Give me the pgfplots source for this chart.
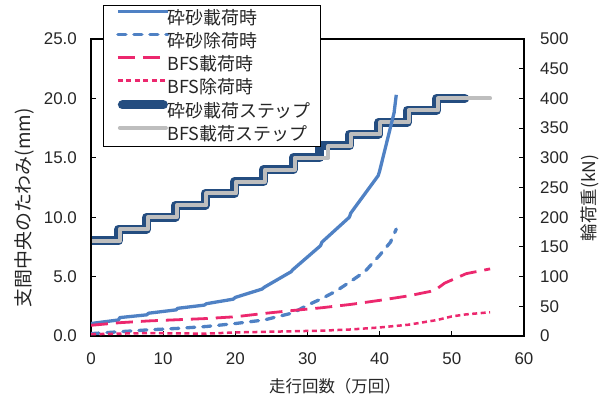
\documentclass[border=0pt]{standalone}
\usepackage{fontspec}
\usepackage{pgfplots}
\usepackage{pgfplotstable}
\pgfplotsset{compat=1.18}
\setmainfont{Noto Sans CJK JP}
\newfontfamily\numfont{Liberation Sans}

\definecolor{sandblue}{RGB}{79,129,196}
\definecolor{bfspink}{RGB}{236,40,110}
\definecolor{stepblue}{RGB}{36,77,128}
\definecolor{stepgray}{RGB}{190,190,190}
\definecolor{txt}{RGB}{38,38,38}

% deflection at midspan (mm) vs. passes (x 10^4)
\pgfplotstableread{
x y
0 1.05
3.8 1.35
4 1.55
7.7 1.78
8 1.92
11.8 2.2
12 2.33
15.7 2.6
16 2.72
19.7 3.1
20 3.25
23.7 3.95
24 4.1
27.7 5.4
28 5.6
31.8 7.6
32 7.9
35.8 10.0
36 10.35
39.8 13.5
40 13.9
42.0 18.8
42.3 20.3
}\sandload

\pgfplotstableread{
x y
0 0.2
4 0.36
8 0.52
12 0.64
16 0.8
20 1.05
24 1.35
28 1.95
30 2.6
32 3.15
34 3.8
36 4.6
38 5.45
40 6.8
41.5 7.9
42.3 9.0
}\sandunload

\pgfplotstableread{
x y
0 0.9
4 1.12
8 1.27
12 1.37
16 1.47
20 1.62
24 1.9
28 2.15
32 2.38
36 2.66
40 3.0
44 3.38
47 3.75
48 4.0
49 4.45
52 5.25
55.3 5.65
}\bfsload

\pgfplotstableread{
x y
0 0.15
4 0.2
8 0.25
12 0.22
16 0.2
20 0.3
24 0.35
28 0.4
32 0.45
36 0.55
40 0.72
44 0.95
48 1.35
50 1.65
52 1.82
55.3 2.0
}\bfsunload

% wheel load steps (kN)
\pgfplotstableread{
x y
0 160
3.8 160
3.8 180
7.7 180
7.7 200
11.7 200
11.7 220
15.8 220
15.8 240
19.9 240
19.9 260
23.9 260
23.9 280
28.0 280
28.0 300
31.7 300
31.7 320
35.8 320
35.8 340
39.9 340
39.9 360
43.8 360
43.8 380
47.9 380
47.9 400
51.8 400
}\sandstep

\pgfplotstableread{
x y
0 160
4.0 160
4.0 180
7.9 180
7.9 200
11.9 200
11.9 220
16.0 220
16.0 240
20.1 240
20.1 260
24.1 260
24.1 280
28.2 280
28.2 300
32.9 300
32.9 320
36.0 320
36.0 340
40.1 340
40.1 360
44.0 360
44.0 380
48.1 380
48.1 400
55.3 400
}\bfsstep

\pgfplotsset{
  common/.style={
    at={(91bp,61bp)}, anchor=south west, scale only axis,
    width=433bp, height=297bp, xmin=0, xmax=60,
    tick align=inside, major tick length=5bp,
    tick style={line width=0.9bp, black},
    axis line style={line width=2.5bp, black},
    /pgf/number format/assume math mode=true,
    tick label style={font=\fontsize{17}{17}\selectfont\numfont, text=txt},
  },
}

\begin{document}
\begin{tikzpicture}
\useasboundingbox (0,0) rectangle (603bp,397bp);

% right axis: wheel load
\begin{axis}[common,
  ymin=0, ymax=500, ytick={0,50,...,500},
  hide x axis, ytick pos=right, yticklabel pos=right,
  yticklabel style={anchor=west, inner sep=0pt, xshift=16bp},
  ylabel={輪荷重(kN)},
  ylabel style={at={(axis description cs:1.1524,0.465)}, anchor=center,
    font=\fontsize{17.5}{17.5}\selectfont, text=txt},
]
\addplot[stepblue, line width=9bp, line cap=round, line join=round] table {\sandstep};
\addplot[stepgray, line width=4bp, line cap=round, line join=round] table {\bfsstep};
\end{axis}

% left axis: deflection
\begin{axis}[common,
  ymin=0, ymax=25, ytick={0,5,...,25}, xtick={0,10,...,60},
  tick pos=left,
  yticklabel style={anchor=east, inner sep=0pt, xshift=-14bp,
    /pgf/number format/fixed, /pgf/number format/fixed zerofill,
    /pgf/number format/precision=1},
  xticklabel style={anchor=north, inner sep=0pt, yshift=-16bp},
  ylabel={支間中央のたわみ(mm)},
  ylabel style={at={(axis description cs:-0.1547,0.431)}, anchor=center,
    font=\fontsize{19}{19}\selectfont, text=txt},
  xlabel={走行回数（万回）},
  xlabel style={at={(axis description cs:0.5635,-0.1684)}, anchor=center,
    font=\fontsize{16.5}{16.5}\selectfont, text=txt},
  legend style={at={(axis description cs:0.0277,1.1145)}, anchor=north west,
    draw=black, line width=0.8bp, fill=white,
    inner xsep=10bp, inner ysep=3bp, row sep=4bp, column sep=-5bp,
    font=\fontsize{18}{18}\selectfont, text=txt,
    nodes={inner sep=0pt, text height=16bp, text depth=3bp}},
  legend cell align=left,
  legend image code/.code={
    \draw[#1] (0bp,6.5bp) -- (50bp,6.5bp);
  },
]
\addplot[sandblue, line width=3.3bp, line join=round] table {\sandload};
\addlegendentry{砕砂載荷時}
\addplot[sandblue, line width=3.3bp, line cap=round, line join=round,
  dash pattern=on 8bp off 8bp] table {\sandunload};
\addlegendentry{砕砂除荷時}
\addplot[bfspink, line width=2.8bp, dash pattern=on 17bp off 8bp] table {\bfsload};
\addlegendentry{BFS載荷時}
\addplot[bfspink, line width=2.5bp, dash pattern=on 5bp off 3.5bp] table {\bfsunload};
\addlegendentry{BFS除荷時}
\addlegendimage{stepblue, line width=9bp, line cap=round,
  shorten <=4.5bp, shorten >=4.5bp}
\addlegendentry{砕砂載荷ステップ}
\addlegendimage{stepgray, line width=4bp, line cap=round,
  shorten <=2bp, shorten >=2bp}
\addlegendentry{BFS載荷ステップ}
\end{axis}
\end{tikzpicture}
\end{document}
